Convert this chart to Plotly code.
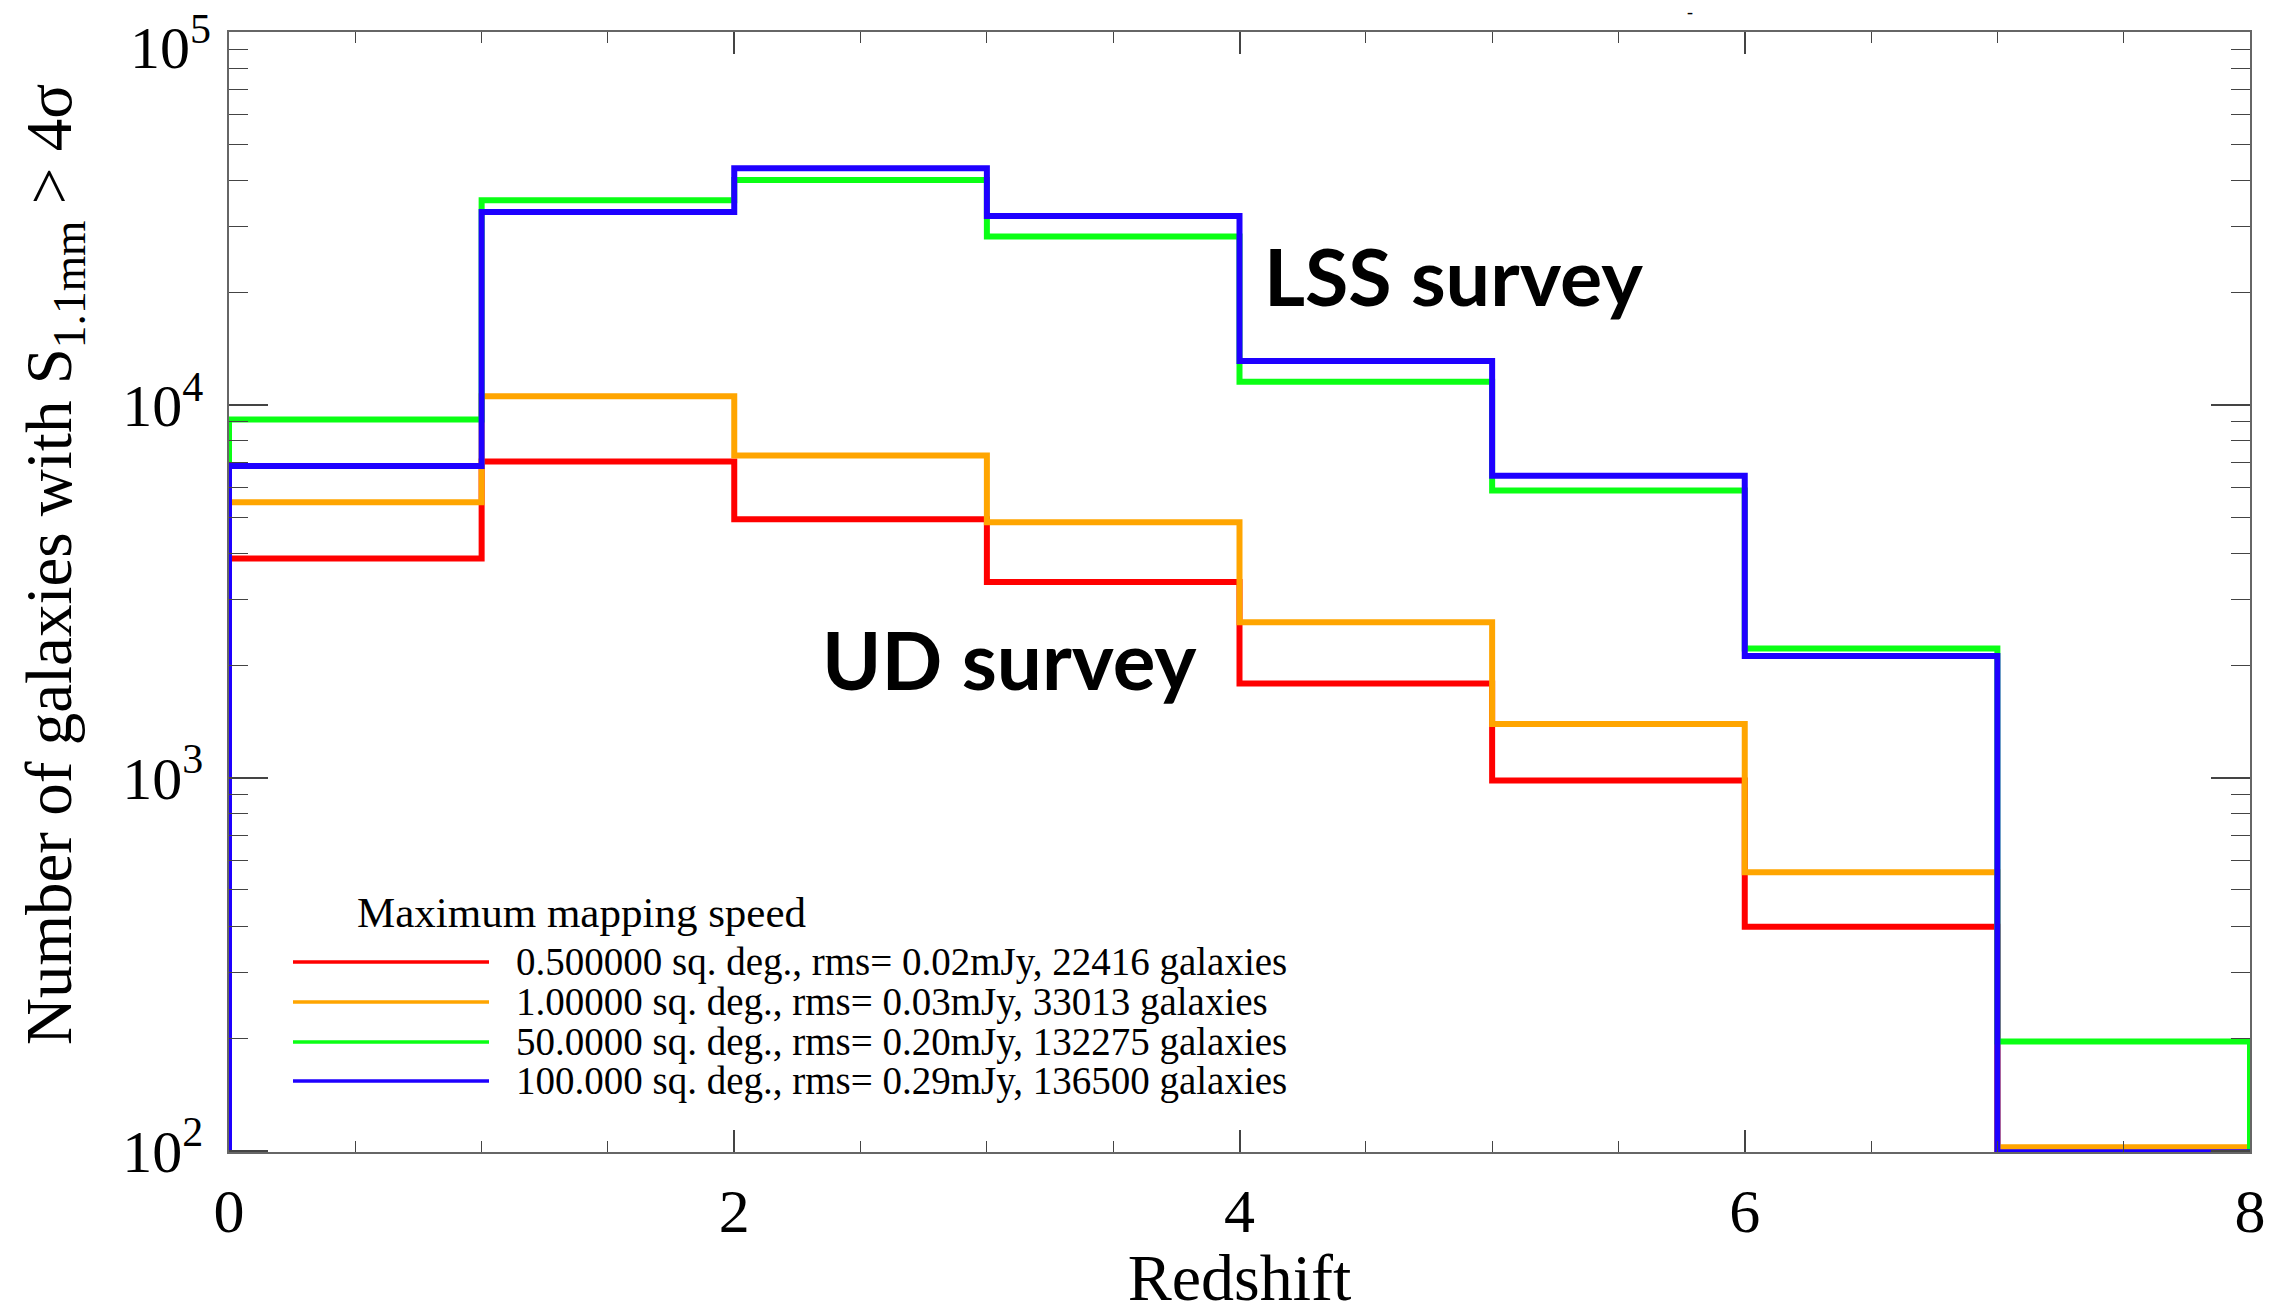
import plotly.graph_objects as go

# ---------------- data ----------------
bin_edges = [0, 1, 2, 3, 4, 5, 6, 7, 8]
counts_red = [3870, 7050, 4930, 3350, 1790, 982, 398, 1]
counts_orange = [5480, 10550, 7310, 4840, 2610, 1393, 558, 102]
counts_green = [9140, 35400, 40100, 28300, 11540, 5890, 2220, 196]
counts_blue = [6850, 32900, 43100, 32100, 13100, 6450, 2120, 99]

series_names = [
    "0.500000 sq. deg., rms= 0.02mJy, 22416 galaxies",
    "1.00000 sq. deg., rms= 0.03mJy, 33013 galaxies",
    "50.0000 sq. deg., rms= 0.20mJy, 132275 galaxies",
    "100.000 sq. deg., rms= 0.29mJy, 136500 galaxies",
]
series_counts = [counts_red, counts_orange, counts_green, counts_blue]
series_colors = ["#FF0000", "#FFA500", "#0AFF14", "#1E00FF"]

legend_title = "Maximum mapping speed"
x_title = "Redshift"
y_title = "Number of galaxies with S<sub>1.1mm</sub> > 4σ"

y_major = [100, 1000, 10000, 100000]
y_major_text = ["10<sup>2</sup>", "10<sup>3</sup>", "10<sup>4</sup>", "10<sup>5</sup>"]
y_minor = [m * 10 ** e for e in (2, 3, 4) for m in range(2, 10)]
x_major = [0, 2, 4, 6, 8]

FLOOR = 1  # below axis range -> outline drops to the bottom
SERIF = "Liberation Serif"

fig = go.Figure()

for name, counts, color in zip(series_names, series_counts, series_colors):
    xs = [bin_edges[0]] + bin_edges[:-1] + [bin_edges[-1]]
    ys = [FLOOR] + counts + [FLOOR]
    fig.add_trace(go.Scatter(
        x=xs, y=ys, mode="lines", name=name,
        line=dict(color=color, width=6, shape="hv"),
        showlegend=False,
    ))

# ---------------- layout geometry ----------------
L, R, T, B = 229, 22, 32, 162
W, H = 2272, 1314
pw, ph = W - L - R, H - T - B


def px(xpix):
    return (xpix - L) / pw


def py(ypix):
    return 1 - (ypix - T) / ph


annotations = []
shapes = []

# y-axis title
annotations.append(dict(text=y_title, x=px(54), y=py(565), xref="paper", yref="paper",
                        xanchor="center", yanchor="middle", showarrow=False, textangle=-90,
                        font=dict(family=SERIF, size=65, color="black")))

# top decade label (kept inside the page, as in the original)
annotations.append(dict(text=y_major_text[-1], x=px(213), y=py(44), xref="paper", yref="paper",
                        xanchor="right", yanchor="middle", showarrow=False,
                        font=dict(family=SERIF, size=60, color="black")))

# survey labels
annotations.append(dict(text="<b>LSS survey</b>", x=px(1262), y=py(275), xref="paper", yref="paper",
                        xanchor="left", yanchor="middle", showarrow=False,
                        font=dict(family="Lato", size=79, color="black")))
annotations.append(dict(text="<b>UD survey</b>", x=px(820), y=py(659), xref="paper", yref="paper",
                        xanchor="left", yanchor="middle", showarrow=False,
                        font=dict(family="Lato", size=80, color="black")))

# small mark above the frame
annotations.append(dict(text="-", x=px(1690), y=py(12), xref="paper", yref="paper",
                        xanchor="center", yanchor="middle", showarrow=False,
                        font=dict(family=SERIF, size=18, color="black")))

# manual legend
annotations.append(dict(text=legend_title, x=px(355), y=py(912), xref="paper", yref="paper",
                        xanchor="left", yanchor="middle", showarrow=False,
                        font=dict(family=SERIF, size=43, color="black")))
row_y = [962, 1002, 1042, 1081]
for name, color, ry in zip(series_names, series_colors, row_y):
    shapes.append(dict(type="line", xref="paper", yref="paper",
                       x0=px(293), x1=px(489), y0=py(ry), y1=py(ry),
                       line=dict(color=color, width=3.5)))
    annotations.append(dict(text=name, x=px(514), y=py(ry), xref="paper", yref="paper",
                            xanchor="left", yanchor="middle", showarrow=False,
                            font=dict(family=SERIF, size=39, color="black")))

fig.update_layout(
    width=W, height=H,
    margin=dict(l=L, r=R, t=T, b=B, autoexpand=False),
    paper_bgcolor="white", plot_bgcolor="white",
    showlegend=False,
    annotations=annotations,
    shapes=shapes,
    font=dict(family=SERIF, color="black"),
)

fig.update_xaxes(
    range=[0, 8], tickvals=x_major, ticks="inside", ticklen=22, tickwidth=1.5, tickcolor="#444",
    showline=True, linecolor="#666", linewidth=1.5, mirror="ticks", showgrid=False, zeroline=False,
    minor=dict(dtick=0.5, ticks="inside", ticklen=11, tickwidth=1.2, tickcolor="#444", showgrid=False),
    tickfont=dict(family=SERIF, size=62, color="black"), ticklabelstandoff=4,
    title=dict(text=x_title, font=dict(family=SERIF, size=66, color="black"), standoff=30),
)
fig.update_yaxes(
    type="log", range=[1.996, 5.0], tickvals=y_major[:-1], ticktext=y_major_text[:-1],
    ticks="inside", ticklen=39, tickwidth=1.5, tickcolor="#444",
    showline=True, linecolor="#666", linewidth=1.5, mirror="ticks", showgrid=False, zeroline=False,
    minor=dict(tickvals=y_minor, ticks="inside", ticklen=19, tickwidth=1.2, tickcolor="#444", showgrid=False),
    tickfont=dict(family=SERIF, size=60, color="black"), ticklabelstandoff=12,
    ticklabeloverflow="allow",
)

fig.write_html("out.html")
